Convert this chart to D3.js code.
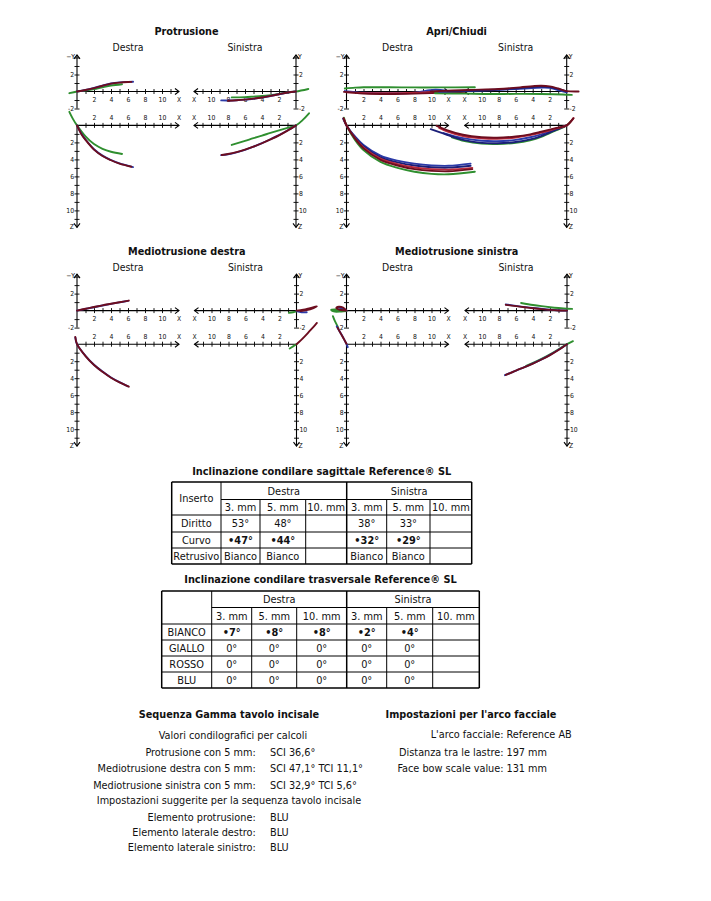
<!DOCTYPE html>
<html><head><meta charset="utf-8">
<script src="https://cdn.jsdelivr.net/npm/d3@7"></script>
<style>
body{margin:0;background:#fff}
svg{display:block}
text{font-family:'DejaVu Sans Condensed','DejaVu Sans',sans-serif;fill:#111}
</style>
</head><body>
<svg id="c" width="711" height="901"></svg>
<script>
// ---------------- DATA ----------------
const chartTitles = ["Protrusione", "Apri/Chiudi", "Mediotrusione destra", "Mediotrusione sinistra"];
const sideLabels = ["Destra", "Sinistra"];
const xTicks = [1,2,3,4,5,6,7,8,9,10,11];
const yTicks = [-2,-1,1,2,3,4];
const yTickLabels = [2,-2];
const zTicks = [1,2,3,4,5,6,7,8,9,10,11];
const evenLabels = [2,4,6,8,10];

// Protrusione
const protrusioneDestraY = [
  {s:"verde", p:[[-0.9,-0.2],[0,0],[1,0.12],[2,0.28],[3,0.5],[4,0.7],[5.3,0.86]]},
  {s:"blu", p:[[0,0],[1,0.18],[2,0.42],[3,0.7],[4,0.94],[5,1.07],[6,1.13],[6.6,1.14]]},
  {s:"bordeaux", p:[[0,0],[1,0.17],[2,0.4],[3,0.68],[4,0.92],[5,1.05],[6,1.12],[6.4,1.13]]}
];
const protrusioneDestraZ = [
  {s:"verde", p:[[-0.9,-1.6],[-0.5,-0.8],[0,0],[1,1.3],[2,2.2],[3,2.75],[4,3.1],[5.3,3.36]]},
  {s:"blu", p:[[0,0],[0.5,0.95],[1,1.65],[2,2.8],[3,3.55],[4,4.07],[5,4.47],[6.6,4.9]]},
  {s:"bordeaux", p:[[0,0],[0.5,1.0],[1,1.7],[2,2.85],[3,3.6],[4,4.1],[5,4.5],[6.4,4.86]]}
];
const protrusioneSinistraY = [
  {s:"verde", p:[[-1.45,0.3],[0,0],[1,-0.12],[2,-0.28],[3,-0.42],[4,-0.53],[5,-0.6],[6,-0.66],[7.56,-0.69]]},
  {s:"blu", p:[[0,0],[1,-0.12],[2,-0.32],[3,-0.53],[4,-0.72],[5,-0.86],[6,-0.96],[7,-1.03],[8,-1.06],[8.8,-1.05]]},
  {s:"bordeaux", p:[[0,0],[1,-0.12],[2,-0.32],[3,-0.52],[4,-0.7],[5,-0.84],[6,-0.95],[7,-1.03],[8,-1.08]]}
];
const protrusioneSinistraZ = [
  {s:"verde", p:[[-1.53,-1.42],[-0.8,-0.65],[0,0],[1,0.3],[2,0.58],[3,0.88],[4,1.2],[5,1.5],[6,1.82],[7.56,2.3]]},
  {s:"blu", p:[[0,0],[1,0.6],[2,1.15],[3,1.63],[4,2.08],[5,2.5],[6,2.87],[7,3.17],[8,3.4],[8.8,3.5]]},
  {s:"bordeaux", p:[[0,0],[1,0.62],[2,1.17],[3,1.65],[4,2.1],[5,2.5],[6,2.85],[7,3.15],[8,3.37],[8.74,3.48]]}
];

// Apri/Chiudi
const apriDestraY = [
  {s:"verde", p:[[-0.2,0.35],[1,0.45],[2,0.5],[5,0.5],[8,0.48],[11,0.48],[15.1,0.5]]},
  {s:"blu", p:[[-0.2,0.05],[2,-0.15],[5,-0.2],[8,-0.15],[9.8,0.15],[10.5,0.2],[12,0.05]]},
  {s:"rosso", p:[[0,-0.1],[3,-0.2],[6,-0.2],[9,-0.1],[12,0]]},
  {s:"bordeaux", p:[[-0.3,-0.05],[2,-0.25],[5,-0.3],[8,-0.25],[11,-0.15],[14,-0.05]]}
];
const apriDestraZ = [
  {s:"verde", p:[[-0.3,-0.9],[0,0],[1,1.7],[2,2.9],[4,4.3],[6,5.0],[8,5.45],[10,5.7],[12,5.75],[15.1,5.45]]},
  {s:"blu", p:[[-0.3,-0.7],[0,0],[1,1.3],[2,2.3],[4,3.55],[6,4.15],[8,4.5],[10,4.7],[12,4.75],[14.6,4.5]]},
  {s:"navy", p:[[-0.4,-0.8],[0,0],[1,1.4],[2,2.45],[4,3.75],[6,4.35],[8,4.72],[10,4.92],[12,4.97],[14.6,4.75]]},
  {s:"rosso", p:[[-0.3,-0.75],[0,0],[1,1.5],[2,2.6],[4,3.9],[6,4.55],[8,4.95],[10,5.15],[12,5.2],[14.8,5.0]]},
  {s:"bordeaux", p:[[-0.35,-0.85],[0,0],[1,1.55],[2,2.7],[4,4.05],[6,4.72],[8,5.15],[10,5.35],[12,5.4],[14.8,5.15]]}
];
const apriSinistraY = [
  {s:"verde", p:[[-0.6,-0.4],[0.5,-0.35],[3,-0.3],[6,-0.28],[9,-0.3],[12,-0.25],[15.5,-0.2]]},
  {s:"blu", p:[[0,-0.1],[0.8,0.1],[1.6,0.35],[2.6,0.45],[4,0.4],[6,0.3],[9,0.15],[12,0.05],[15,-0.05]]},
  {s:"navy", p:[[0,0],[1,0.3],[2,0.52],[3,0.58],[4.5,0.48],[7,0.3],[10,0.15],[14,0.05]]},
  {s:"bordeaux", p:[[-1.4,0],[0,0.05],[1,0.35],[2,0.6],[3,0.68],[4,0.62],[5.5,0.48],[8,0.3],[11.5,0.18],[16,0.02]]}
];
const apriSinistraZ = [
  {s:"verde", p:[[-0.5,-0.5],[0,0],[1.2,0.55],[3,1.35],[4.3,1.75],[6,2.05],[8.2,2.2],[10,2.15],[12,1.85],[13.5,1.4]]},
  {s:"blu", p:[[0,0],[1.2,0.45],[3,1.05],[4.3,1.4],[6,1.7],[8.2,1.85],[10,1.8],[12.2,1.5],[14.5,0.9]]},
  {s:"navy", p:[[0,0],[1.2,0.5],[3,1.25],[4.3,1.65],[6,1.95],[8.2,2.1],[10,2.05],[12.2,1.7],[14.1,1.1],[16,0.45]]},
  {s:"rosso", p:[[-0.8,-0.85],[0,0],[1.2,0.35],[3,0.85],[4.3,1.15],[6,1.42],[8.2,1.58],[10,1.52],[12.2,1.25],[14.1,0.7],[15,0.3]]},
  {s:"bordeaux", p:[[-0.8,-0.85],[0,0],[1.2,0.3],[3,0.75],[4.3,1.05],[6,1.3],[8.2,1.45],[10,1.4],[12.2,1.1],[14.1,0.55],[15.3,0.05]]}
];

// Mediotrusione destra
const medDxDestraY = [
  {s:"blu", p:[[0,0],[1,0.2],[2,0.4],[3,0.6],[4,0.79],[5,0.97],[6,1.15]]},
  {s:"bordeaux", p:[[0,0],[1,0.22],[2,0.42],[3,0.62],[4,0.8],[5,0.98],[6.1,1.18]]}
];
const medDxDestraZ = [
  {s:"blu", p:[[-0.2,-0.8],[0,0],[1,1.38],[2,2.42],[3,3.22],[4,3.92],[5,4.47],[6,4.95]]},
  {s:"bordeaux", p:[[-0.2,-0.85],[0,0],[1,1.4],[2,2.45],[3,3.25],[4,3.95],[5,4.5],[6.1,5.0]]}
];
const medDxSinistraY = [
  {s:"verde", p:[[0.9,-0.25],[0.4,-0.2],[0,-0.1]]},
  {s:"blu", p:[[0,-0.05],[-0.6,-0.2],[-1.2,-0.2]]},
  {s:"bordeaux", p:[[0,0],[-0.8,0.1],[-1.6,0.3],[-2.4,0.5],[-2.0,0.3],[-1.2,0.05],[-0.5,-0.05]]}
];
const medDxSinistraZ = [
  {s:"verde", p:[[0.8,0.5],[0.4,0.25],[0,0]]},
  {s:"bordeaux", p:[[0,0],[-0.5,-0.45],[-1,-0.95],[-1.5,-1.5],[-2,-2.05],[-2.4,-2.5]]}
];

// Mediotrusione sinistra
const medSxDestraY = [
  {s:"verde", p:[[0,0],[-0.8,0.1],[-1.8,0.1],[-1.5,-0.1],[-0.6,-0.1],[0,-0.05]]},
  {s:"blu", p:[[0,0],[-0.5,0.25],[-0.9,0.35]]},
  {s:"bordeaux", p:[[0,0],[-0.4,0.35],[-0.9,0.45],[-1.2,0.3],[-0.8,0.1],[0,0]]}
];
const medSxDestraZ = [
  {s:"verde", p:[[-1.6,-3.3],[-1.4,-2.8],[-1.15,-2.3],[-1.0,-2.0]]},
  {s:"blu", p:[[-1.15,-2.1],[-0.8,-1.5],[-0.4,-0.8],[0,0],[0.15,0.35]]},
  {s:"bordeaux", p:[[-1.05,-1.95],[-0.7,-1.3],[-0.3,-0.6],[0,-0.05]]}
];
const medSxSinistraY = [
  {s:"verde", p:[[-0.6,0.2],[0,0.22],[1,0.3],[2,0.4],[3,0.52],[4,0.66],[5.4,0.9]]},
  {s:"blu", p:[[0,0],[2,0.1],[4,0.3],[6,0.55],[7.2,0.72]]},
  {s:"bordeaux", p:[[0,0],[1,0.02],[2,0.08],[3,0.17],[4,0.28],[5,0.4],[6,0.52],[7.2,0.68]]}
];
const medSxSinistraZ = [
  {s:"verde", p:[[-0.7,-0.35],[0,0],[1,0.6],[2,1.2],[3,1.72],[4,2.2],[4.8,2.55]]},
  {s:"blu", p:[[0,0],[1,0.66],[2,1.26],[3,1.78],[4,2.26],[5,2.7],[6,3.1],[7.3,3.65]]},
  {s:"bordeaux", p:[[0,0],[1,0.68],[2,1.28],[3,1.8],[4,2.28],[5,2.7],[6,3.1],[7.2,3.62]]}
];

const chartData = [
  [protrusioneDestraY, protrusioneDestraZ, protrusioneSinistraY, protrusioneSinistraZ],
  [apriDestraY, apriDestraZ, apriSinistraY, apriSinistraZ],
  [medDxDestraY, medDxDestraZ, medDxSinistraY, medDxSinistraZ],
  [medSxDestraY, medSxDestraZ, medSxSinistraY, medSxSinistraZ]
];

// Tables
const sagTitle = "Inclinazione condilare sagittale Reference® SL";
const trasTitle = "Inclinazione condilare trasversale Reference® SL";
const groupHeaders = ["Destra", "Sinistra"];
const subHeaders = ["3. mm","5. mm","10. mm","3. mm","5. mm","10. mm"];
const sagRowLabels = ["Diritto","Curvo","Retrusivo"];
const sagDiritto = ["53°","48°","","38°","33°",""];
const sagCurvo = ["•47°","•44°","","•32°","•29°",""];
const sagRetrusivo = ["Bianco","Bianco","","Bianco","Bianco",""];
const trasRowLabels = ["BIANCO","GIALLO","ROSSO","BLU"];
const trasBianco = ["•7°","•8°","•8°","•2°","•4°",""];
const trasGiallo = ["0°","0°","0°","0°","0°",""];
const trasRosso = ["0°","0°","0°","0°","0°",""];
const trasBlu = ["0°","0°","0°","0°","0°",""];

// Bottom texts
const gammaTitle = "Sequenza Gamma tavolo incisale";
const gammaIntro = "Valori condilografici per calcoli";
const gammaLabels = ["Protrusione con 5 mm:", "Mediotrusione destra con 5 mm:", "Mediotrusione sinistra con 5 mm:"];
const gammaValues = ["SCI 36,6°", "SCI 47,1° TCI 11,1°", "SCI 32,9° TCI 5,6°"];
const gammaIntro2 = "Impostazioni suggerite per la sequenza tavolo incisale";
const elementLabels = ["Elemento protrusione:", "Elemento laterale destro:", "Elemento laterale sinistro:"];
const elementValues = ["BLU", "BLU", "BLU"];
const arcoTitle = "Impostazioni per l'arco facciale";
const arcoLabels = ["L'arco facciale:", "Distanza tra le lastre:", "Face bow scale value:"];
const arcoValues = ["Reference AB", "197 mm", "131 mm"];

// ---------------- DRAW ----------------
const svg = d3.select("#c");
svg.append("rect").attr("width",711).attr("height",901).attr("fill","#fff");

const color = d3.scaleOrdinal()
  .domain(["verde","blu","navy","rosso","bordeaux"])
  .range(["#2f8f2f","#2b3aa8","#1b1f78","#b8283c","#6d0d1f"]);

const U = 8.5;
const layout = [
  {dx:77, sx:296, yT:91.5, yB:125.4, ty:31},
  {dx:346.5, sx:566.7, yT:91.5, yB:125.4, ty:31},
  {dx:77, sx:296.5, yT:310.6, yB:344.2, ty:251},
  {dx:346.5, sx:567, yT:310.6, yB:344.2, ty:251}
];
const TK = 2.5;
const tickFont = 6.8;
const tickFill = "#333";

function arrow(g, x, y, dirx, diry) {
  const L = 4, W = 3;
  let p;
  if (dirx) p = `M${x - dirx*L},${y - W}L${x},${y}L${x - dirx*L},${y + W}`;
  else p = `M${x - W},${y - diry*L}L${x},${y}L${x + W},${y - diry*L}`;
  g.append("path").attr("d", p).attr("fill","none").attr("stroke","#000").attr("stroke-width",1.1);
}

function styleAxis(sel, horizontal) {
  sel.select(".domain").remove();
  sel.selectAll(".tick line").attr("stroke","#000").attr("stroke-width",0.9);
  if (horizontal) sel.selectAll(".tick line").attr("y1", -TK).attr("y2", TK);
  else sel.selectAll(".tick line").attr("x1", -TK).attr("x2", TK);
  sel.selectAll(".tick text").attr("font-size", tickFont).attr("fill", tickFill)
    .style("font-family","'DejaVu Sans Condensed','DejaVu Sans',sans-serif");
  sel.attr("font-family", null).attr("font-size", null);
}

function smallLabel(g, x, y, anchor, t) {
  g.append("text").attr("x", x).attr("y", y).attr("text-anchor", anchor)
    .attr("font-size", tickFont).attr("fill", tickFill).text(t);
}

function drawSection(g, ox, oy, dir, sec, series) {
  const x = d3.scaleLinear().domain([0,12]).range([ox, ox + dir*12*U]);
  const y = sec === "Y"
    ? d3.scaleLinear().domain([-2, 4.3]).range([oy + 2*U, oy - 4.3*U])
    : d3.scaleLinear().domain([0, 12]).range([oy, oy + 12*U]);

  // X axis
  const xa = (sec === "Y" ? d3.axisBottom(x) : d3.axisTop(x))
    .tickValues(xTicks).tickFormat(d => evenLabels.includes(d) ? d : "")
    .tickSize(TK).tickPadding(3);
  const xg = g.append("g").attr("transform", `translate(0,${oy})`).call(xa);
  styleAxis(xg, true);
  g.append("line").attr("x1", x(0)).attr("x2", x(12)).attr("y1", oy).attr("y2", oy)
    .attr("stroke","#000").attr("stroke-width",1.1);
  arrow(g, x(12), oy, dir, 0);
  smallLabel(g, x(12), sec === "Y" ? oy + 10.5 : oy - 5.6, "middle", "X");

  // Y/Z axis
  const ya = (dir > 0 ? d3.axisLeft(y) : d3.axisRight(y))
    .tickValues(sec === "Y" ? yTicks : zTicks)
    .tickFormat(d => sec === "Y" ? (yTickLabels.includes(d) ? String(d) : "") : (evenLabels.includes(d) ? d : ""))
    .tickSize(TK).tickPadding(0.4);
  const yg = g.append("g").attr("transform", `translate(${ox},0)`).call(ya);
  styleAxis(yg, false);
  if (sec === "Y") {
    g.append("line").attr("x1", ox).attr("x2", ox).attr("y1", y(-2)).attr("y2", y(4.3))
      .attr("stroke","#000").attr("stroke-width",1.1);
    arrow(g, ox, y(4.3), 0, -1);
    smallLabel(g, dir > 0 ? ox - 2 : ox + 2, y(4.3) + 4.2, dir > 0 ? "end" : "start", dir > 0 ? "−Y" : "Y");
  } else {
    g.append("line").attr("x1", ox).attr("x2", ox).attr("y1", y(0)).attr("y2", y(12))
      .attr("stroke","#000").attr("stroke-width",1.1);
    arrow(g, ox, y(12), 0, 1);
    smallLabel(g, dir > 0 ? ox - 3 : ox + 2, y(12) + 1.8, dir > 0 ? "end" : "start", "Z");
  }

  // curves
  const line = d3.line().x(d => x(d[0])).y(d => y(d[1])).curve(d3.curveCatmullRom.alpha(0.5));
  g.selectAll(null).data(series).enter().append("path")
    .attr("d", d => line(d.p)).attr("fill","none")
    .attr("stroke", d => color(d.s)).attr("stroke-width",1.9)
    .attr("stroke-linecap","round").attr("stroke-linejoin","round");
}

layout.forEach((L, i) => {
  const g = svg.append("g");
  g.append("text").attr("x", (L.dx + L.sx)/2).attr("y", L.ty + 3.8)
    .attr("text-anchor","middle").attr("font-weight","bold").attr("font-size",10.8).text(chartTitles[i]);
  g.append("text").attr("x", L.dx + 51).attr("y", L.ty + 20.4)
    .attr("text-anchor","middle").attr("font-size",10.4).text(sideLabels[0]);
  g.append("text").attr("x", L.sx - 51).attr("y", L.ty + 20.4)
    .attr("text-anchor","middle").attr("font-size",10.4).text(sideLabels[1]);
  const [dY, dZ, sY, sZ] = chartData[i];
  drawSection(g, L.dx, L.yT, 1, "Y", dY);
  drawSection(g, L.dx, L.yB, 1, "Z", dZ);
  drawSection(g, L.sx, L.yT, -1, "Y", sY);
  drawSection(g, L.sx, L.yB, -1, "Z", sZ);
});

// ---- tables ----
function drawTable(opts) {
  const g = svg.append("g");
  const {cols, rows, title, titleY, firstHeader, body, bodyLabels, boldRow} = opts;
  const fs = 10.9;
  g.append("text").attr("x", (cols[0] + cols[7]) / 2).attr("y", titleY)
    .attr("text-anchor","middle").attr("font-weight","bold").attr("font-size", 10.9).text(title);
  const ln = (x1,y1,x2,y2,w) => g.append("line").attr("x1",x1).attr("y1",y1).attr("x2",x2).attr("y2",y2)
    .attr("stroke","#000").attr("stroke-width",w);
  ln(cols[0], rows[0], cols[7], rows[0], 1.5);
  ln(cols[1], rows[1], cols[7], rows[1], 1);
  for (let r = 2; r < rows.length - 1; r++) ln(cols[0], rows[r], cols[7], rows[r], 1);
  ln(cols[0], rows[rows.length-1], cols[7], rows[rows.length-1], 1.5);
  ln(cols[0], rows[0], cols[0], rows[rows.length-1], 1.5);
  ln(cols[1], rows[0], cols[1], rows[rows.length-1], 1);
  ln(cols[4], rows[0], cols[4], rows[rows.length-1], 1.5);
  ln(cols[7], rows[0], cols[7], rows[rows.length-1], 1.5);
  [2,3,5,6].forEach(c => ln(cols[c], rows[1], cols[c], rows[rows.length-1], 1));
  const txt = (x, y, t, bold) => g.append("text").attr("x", x).attr("y", y).attr("dy","0.36em")
    .attr("text-anchor","middle").attr("font-size", fs).attr("font-weight", bold ? "bold" : null).text(t);
  if (firstHeader) txt((cols[0]+cols[1])/2, (rows[0]+rows[2])/2, firstHeader);
  txt((cols[1]+cols[4])/2, (rows[0]+rows[1])/2, groupHeaders[0]);
  txt((cols[4]+cols[7])/2, (rows[0]+rows[1])/2, groupHeaders[1]);
  subHeaders.forEach((h, c) => txt((cols[c+1]+cols[c+2])/2, (rows[1]+rows[2])/2, h));
  body.forEach((row, r) => {
    const yc = (rows[r+2] + rows[r+3]) / 2;
    txt((cols[0]+cols[1])/2, yc, bodyLabels[r]);
    row.forEach((v, c) => { if (v) txt((cols[c+1]+cols[c+2])/2, yc, v, r === boldRow); });
  });
}

drawTable({
  cols: [171.7, 221, 260, 305.7, 346.7, 386.7, 430, 471.7],
  rows: [482, 499.5, 515, 532, 548, 564],
  title: sagTitle, titleY: 474.5, firstHeader: "Inserto",
  body: [sagDiritto, sagCurvo, sagRetrusivo], bodyLabels: sagRowLabels, boldRow: 1
});
drawTable({
  cols: [161.7, 211.7, 251.7, 296.7, 346.7, 386.7, 432.7, 479.3],
  rows: [591, 607.5, 624, 640, 656, 672, 688],
  title: trasTitle, titleY: 583, firstHeader: "",
  body: [trasBianco, trasGiallo, trasRosso, trasBlu], bodyLabels: trasRowLabels, boldRow: 0
});

// ---- bottom text ----
const bt = svg.append("g");
const T = (x, y, t, anchor, bold) => bt.append("text").attr("x", x).attr("y", y)
  .attr("text-anchor", anchor).attr("font-size", 10.8).attr("font-weight", bold ? "bold" : null).text(t);
T(229, 718, gammaTitle, "middle", true);
T(233, 739.3, gammaIntro, "middle");
const gy = [755.8, 772.3, 788.8];
gammaLabels.forEach((t, i) => { T(255.7, gy[i], t, "end"); T(270, gy[i], gammaValues[i], "start"); });
T(229, 804.2, gammaIntro2, "middle");
const ey = [820.6, 835.7, 850.7];
elementLabels.forEach((t, i) => { T(255.7, ey[i], t, "end"); T(270, ey[i], elementValues[i], "start"); });
T(471, 718, arcoTitle, "middle", true);
const ay = [737.5, 755.8, 772.3];
arcoLabels.forEach((t, i) => { T(503.5, ay[i], t, "end"); T(506.5, ay[i], arcoValues[i], "start"); });
</script>
</body></html>
